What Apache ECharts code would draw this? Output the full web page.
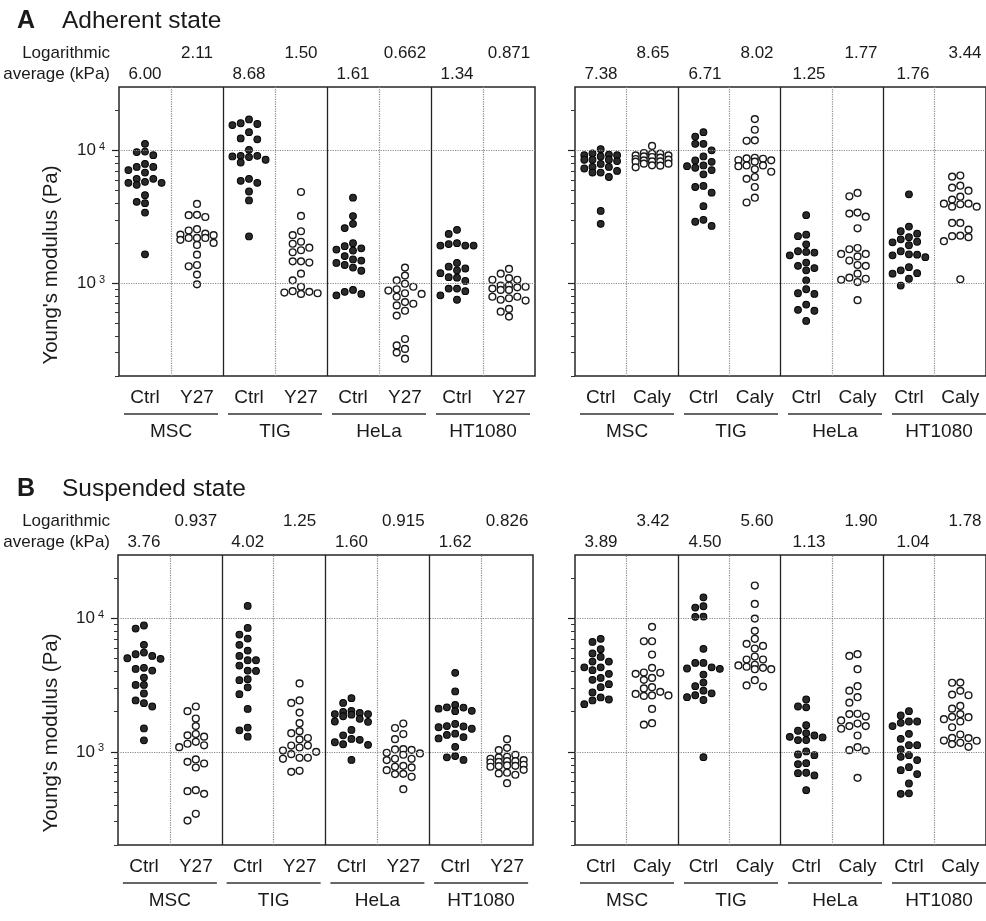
<!DOCTYPE html>
<html><head><meta charset="utf-8">
<script src="https://cdn.jsdelivr.net/npm/echarts@6/dist/echarts.min.js"></script>
<style>html,body{margin:0;padding:0;background:#fff}#c{width:986px;height:921px}</style>
</head><body><div id="c"></div>
<script>
// ---------- data ----------
const cellLines = ['MSC', 'TIG', 'HeLa', 'HT1080'];
const leftTreat = ['Ctrl', 'Y27'];
const rightTreat = ['Ctrl', 'Caly'];
const yTickValues = [1000, 10000];
const yMinorTickValues = [200, 300, 400, 500, 600, 700, 800, 900, 2000, 3000, 4000, 5000, 6000, 7000, 8000, 9000, 20000];
const panelTitles = ['Adherent state', 'Suspended state'];
const panelLetters = ['A', 'B'];

// A: adherent, Y27 experiment (Pa) — order: MSC, TIG, HeLa, HT1080
const adhY27Ctrl = [
  [11200, 9700, 9200, 9800, 7900, 7500, 7500, 7100, 6800, 6100, 6100, 5800, 5700, 5700, 5500, 4600, 4100, 4000, 3400, 1650],
  [17100, 15800, 15500, 16000, 12300, 12100, 13700, 10100, 9100, 8900, 9100, 8100, 8500, 9000, 6100, 5700, 5900, 4900, 4200, 2250],
  [4400, 3200, 2800, 2600, 1900, 1760, 1830, 2000, 1790, 1480, 1370, 1510, 1600, 1310, 1420, 1240, 890, 830, 810, 860],
  [2520, 2350, 2000, 1970, 1920, 1920, 1920, 1420, 1330, 1290, 1250, 1190, 1110, 1100, 1040, 910, 910, 870, 810, 750]
];
const adhY27Treated = [
  [3950, 3270, 3150, 3250, 2550, 2360, 2490, 2190, 2190, 2300, 2320, 2120, 2190, 1940, 2010, 1640, 1340, 1370, 1160, 980],
  [4860, 3210, 2460, 2300, 2050, 1980, 1850, 1770, 1710, 1460, 1430, 1460, 1180, 1050, 940, 860, 840, 830, 850, 870],
  [1310, 1140, 1050, 990, 940, 900, 880, 840, 830, 790, 720, 700, 680, 620, 570, 380, 340, 320, 300, 270],
  [1280, 1180, 1090, 1060, 1060, 960, 960, 940, 930, 910, 890, 890, 790, 790, 770, 750, 740, 640, 610, 560]
];
// A: adherent, calyculin experiment
const adhCalyCtrl = [
  [10200, 9500, 9300, 9200, 9200, 9000, 8500, 8500, 8500, 8300, 7900, 7500, 7500, 7300, 7000, 6800, 6800, 6300, 3500, 2800],
  [13700, 12700, 11200, 11200, 10000, 9000, 8400, 8200, 7700, 7600, 7400, 7100, 6600, 5400, 5300, 4800, 3800, 3000, 2900, 2700],
  [3250, 2320, 2260, 1960, 1740, 1720, 1700, 1620, 1430, 1350, 1300, 1250, 1050, 900, 840, 830, 690, 630, 620, 520],
  [4670, 2670, 2460, 2360, 2220, 2140, 2050, 2030, 1930, 1740, 1650, 1640, 1620, 1570, 1320, 1250, 1190, 1180, 1080, 960]
];
const adhCalyTreated = [
  [10800, 9550, 9440, 9440, 9170, 9170, 9010, 8910, 8810, 8600, 8510, 8410, 8260, 8260, 8220, 7940, 7940, 7710, 7670, 7450],
  [17200, 14300, 11900, 11800, 8800, 8700, 8650, 8460, 8410, 8220, 7700, 7700, 7600, 7200, 6900, 6300, 6100, 5300, 4400, 4050],
  [4780, 4510, 3400, 3340, 3170, 2590, 1840, 1800, 1660, 1660, 1590, 1480, 1370, 1350, 1180, 1100, 1080, 1060, 1020, 745],
  [6460, 6340, 5420, 5240, 4970, 4480, 4260, 3970, 3970, 3930, 3770, 3770, 2840, 2840, 2530, 2280, 2260, 2220, 2070, 1070]
];
// B: suspended, Y27 experiment
const susY27Ctrl = [
  [8870, 8410, 6350, 5560, 5400, 5250, 5040, 4990, 4270, 4190, 4070, 3610, 3180, 3180, 2740, 2430, 2320, 2190, 1500, 1220],
  [12450, 8510, 7590, 7080, 6350, 5750, 5250, 4870, 4870, 4440, 4070, 4050, 3510, 3450, 3050, 2710, 2100, 1520, 1450, 1300],
  [2530, 2330, 2030, 1990, 1960, 1920, 1920, 1900, 1850, 1770, 1690, 1680, 1460, 1330, 1250, 1230, 1180, 1140, 1130, 870],
  [3920, 2840, 2250, 2160, 2150, 2110, 2030, 2020, 1620, 1560, 1550, 1530, 1490, 1370, 1340, 1290, 1260, 1090, 930, 910, 870]
];
const susY27Treated = [
  [2190, 2020, 1780, 1560, 1360, 1330, 1300, 1190, 1150, 1120, 1085, 877, 841, 818, 763, 516, 507, 484, 343, 305],
  [3260, 2430, 2330, 1970, 1640, 1430, 1380, 1270, 1240, 1115, 1115, 1078, 1023, 1000, 961, 902, 902, 887, 721, 708],
  [1630, 1510, 1360, 1245, 1047, 1042, 1035, 984, 973, 951, 887, 887, 867, 785, 773, 764, 729, 684, 681, 650, 525],
  [1245, 1072, 1030, 951, 918, 908, 887, 867, 851, 851, 841, 832, 800, 791, 785, 782, 773, 733, 697, 689, 673, 582]
];
// B: suspended, calyculin experiment
const susCalyCtrl = [
  [7050, 6680, 5890, 5470, 5160, 4760, 4760, 4310, 4310, 4100, 3850, 3590, 3470, 3220, 3055, 2790, 2560, 2470, 2430, 2280],
  [14450, 12380, 12100, 10350, 10300, 5930, 4650, 4650, 4310, 4220, 4200, 3800, 3310, 3110, 2880, 2750, 2660, 2570, 2450, 912],
  [2470, 2190, 2160, 1585, 1440, 1380, 1327, 1297, 1282, 1225, 1225, 1007, 955, 944, 822, 809, 697, 692, 665, 516],
  [2020, 1875, 1690, 1690, 1650, 1560, 1365, 1253, 1122, 1122, 1042, 944, 918, 867, 767, 729, 681, 579, 488, 484]
];
const susCalyTreated = [
  [8670, 6760, 6760, 5370, 4270, 3940, 3920, 3850, 3590, 3470, 3055, 2990, 2820, 2720, 2650, 2650, 2630, 2100, 1640, 1600],
  [17700, 12880, 10000, 8090, 7050, 6460, 6240, 5960, 5190, 4930, 4930, 4500, 4450, 4350, 4270, 4170, 4170, 3450, 3150, 3090],
  [5410, 5250, 4170, 3110, 2880, 2570, 2340, 1930, 1920, 1840, 1720, 1630, 1560, 1560, 1490, 1327, 1084, 1030, 1023, 638],
  [3310, 3300, 2870, 2690, 2660, 2210, 2110, 1920, 1830, 1820, 1760, 1690, 1530, 1350, 1274, 1268, 1216, 1211, 1169, 1143, 1091]
];

// logarithmic averages (kPa)
const adhY27AvgCtrl = ['6.00', '8.68', '1.61', '1.34'];
const adhY27AvgTreated = ['2.11', '1.50', '0.662', '0.871'];
const adhCalyAvgCtrl = ['7.38', '6.71', '1.25', '1.76'];
const adhCalyAvgTreated = ['8.65', '8.02', '1.77', '3.44'];
const susY27AvgCtrl = ['3.76', '4.02', '1.60', '1.62'];
const susY27AvgTreated = ['0.937', '1.25', '0.915', '0.826'];
const susCalyAvgCtrl = ['3.89', '4.50', '1.13', '1.04'];
const susCalyAvgTreated = ['3.42', '5.60', '1.90', '1.78'];

// ---------- layout ----------
const FONT = 'Liberation Sans, Arial, Helvetica, sans-serif';
const Y_MIN = 200, Y_MAX = 30000;
const panels = [
  { grid: { left: 119, top: 87, width: 416, height: 289 }, ctrl: adhY27Ctrl, trt: adhY27Treated, avgC: adhY27AvgCtrl, avgT: adhY27AvgTreated, treat: leftTreat, yLabels: true },
  { grid: { left: 575, top: 87, width: 416, height: 289 }, ctrl: adhCalyCtrl, trt: adhCalyTreated, avgC: adhCalyAvgCtrl, avgT: adhCalyAvgTreated, treat: rightTreat, yLabels: false },
  { grid: { left: 118, top: 555, width: 415, height: 290 }, ctrl: susY27Ctrl, trt: susY27Treated, avgC: susY27AvgCtrl, avgT: susY27AvgTreated, treat: leftTreat, yLabels: true },
  { grid: { left: 575, top: 555, width: 416, height: 290 }, ctrl: susCalyCtrl, trt: susCalyTreated, avgC: susCalyAvgCtrl, avgT: susCalyAvgTreated, treat: rightTreat, yLabels: false }
];

// simple beeswarm on 5 horizontal slots; offsets are in column units
function swarm(values, col, pxPerDecade, colPx) {
  const SLOT_PX = 8.3, MIN_GAP = 7.2;
  const order = [0, -1, 1, -2, 2];
  const placed = {};
  order.forEach(s => placed[s] = []);
  const sorted = values.slice().sort((a, b) => b - a);
  const out = [];
  sorted.forEach(v => {
    const py = -Math.log10(v) * pxPerDecade;
    let best = 0, bestD = -1;
    for (const s of order) {
      const d = placed[s].reduce((m, q) => Math.min(m, Math.abs(q - py)), Infinity);
      if (d >= MIN_GAP) { best = s; break; }
      if (d > bestD + 0.5) { bestD = d; best = s; }
    }
    placed[best].push(py);
    out.push([col + 0.5 + best * SLOT_PX / colPx, v]);
  });
  return out;
}

const grids = [], xAxes = [], yAxes = [], series = [], graphics = [];
const txt = (x, y, text, size, opts) => Object.assign({
  type: 'text', x, y, silent: true,
  style: Object.assign({ text, fontSize: size, fontFamily: FONT, fill: '#1a1a1a', align: 'center', verticalAlign: 'middle' }, opts || {})
});

panels.forEach((p, pi) => {
  const g = p.grid;
  const colPx = g.width / 8;
  const pxPerDecade = g.height / Math.log10(Y_MAX / Y_MIN);
  grids.push(Object.assign({ show: true, borderColor: '#262626', borderWidth: 1.5, backgroundColor: 'transparent' }, g));
  xAxes.push({
    type: 'value', gridIndex: pi, min: 0, max: 8, interval: 1,
    axisLine: { show: false }, axisTick: { show: false }, splitLine: { show: false },
    axisLabel: {
      customValues: [0.5, 1.5, 2.5, 3.5, 4.5, 5.5, 6.5, 7.5],
      formatter: v => p.treat[Math.floor(v) % 2],
      fontSize: 19, fontFamily: FONT, color: '#1a1a1a', margin: 12
    }
  });
  yAxes.push({
    type: 'log', logBase: 10, gridIndex: pi, position: 'left', min: Y_MIN, max: Y_MAX,
    axisLine: { show: false }, splitLine: { show: false },
    axisTick: { show: true, customValues: yTickValues, length: 7, lineStyle: { color: '#222', width: 1.2 } },
    axisLabel: {
      show: p.yLabels, customValues: yTickValues, margin: 14,
      formatter: v => '{b|10}{s|' + Math.round(Math.log10(v)) + '}',
      rich: {
        b: { fontSize: 17, fontFamily: FONT, color: '#1a1a1a', lineHeight: 18 },
        s: { fontSize: 11, fontFamily: FONT, color: '#1a1a1a', verticalAlign: 'top', padding: [0, 0, 0, 3] }
      }
    }
  });
  yAxes.push({
    type: 'log', logBase: 10, gridIndex: pi, position: 'left', offset: 0, min: Y_MIN, max: Y_MAX,
    axisLine: { show: false }, splitLine: { show: false }, axisLabel: { show: false },
    axisTick: { show: true, customValues: yMinorTickValues, length: 4, lineStyle: { color: '#333', width: 1 } }
  });

  // reference lines
  const dotted = { type: 'dotted', color: '#8a8a8a', width: 1.2 };
  const solid = { type: 'solid', color: '#222', width: 1.3 };
  series.push({
    type: 'scatter', xAxisIndex: pi, yAxisIndex: 2 * pi, data: [], z: 1, silent: true,
    markLine: {
      silent: true, symbol: ['none', 'none'], label: { show: false }, animation: false,
      data: [
        { yAxis: 1000, lineStyle: dotted }, { yAxis: 10000, lineStyle: dotted },
        { xAxis: 1, lineStyle: dotted }, { xAxis: 3, lineStyle: dotted },
        { xAxis: 5, lineStyle: dotted }, { xAxis: 7, lineStyle: dotted },
        { xAxis: 2, lineStyle: solid }, { xAxis: 4, lineStyle: solid }, { xAxis: 6, lineStyle: solid }
      ]
    }
  });

  let ctrlData = [], trtData = [];
  cellLines.forEach((cl, ci) => {
    ctrlData = ctrlData.concat(swarm(p.ctrl[ci], 2 * ci, pxPerDecade, colPx));
    trtData = trtData.concat(swarm(p.trt[ci], 2 * ci + 1, pxPerDecade, colPx));
  });
  series.push({
    type: 'scatter', xAxisIndex: pi, yAxisIndex: 2 * pi, data: ctrlData, z: 3,
    symbol: 'circle', symbolSize: 6.8, animation: false,
    itemStyle: { color: '#2a2a2a', borderColor: '#000', borderWidth: 1, opacity: 1 }
  });
  series.push({
    type: 'scatter', xAxisIndex: pi, yAxisIndex: 2 * pi, data: trtData, z: 3,
    symbol: 'circle', symbolSize: 6.8, animation: false,
    itemStyle: { color: '#fff', borderColor: '#1a1a1a', borderWidth: 1.4, opacity: 1 }
  });

  // log-average labels, group labels, underlines
  const bottom = g.top + g.height;
  cellLines.forEach((cl, ci) => {
    const cx = g.left + (2 * ci + 0.5) * colPx;
    const tx = g.left + (2 * ci + 1.5) * colPx;
    graphics.push(txt(cx, g.top - 13, p.avgC[ci], 17));
    graphics.push(txt(tx, g.top - 34, p.avgT[ci], 17));
    const gc = g.left + (2 * ci + 1) * colPx;
    graphics.push({ type: 'line', silent: true, shape: { x1: gc - 47, y1: bottom + 38, x2: gc + 47, y2: bottom + 38 }, style: { stroke: '#333', lineWidth: 1.3 } });
    graphics.push(txt(gc, bottom + 56, cl, 19));
  });
});

// panel headers & y-axis titles
[0, 2].forEach((pi, k) => {
  const g = panels[pi].grid;
  graphics.push(txt(17, g.top - 66, panelLetters[k], 25, { align: 'left', fontWeight: 'bold' }));
  graphics.push(txt(62, g.top - 66, panelTitles[k], 24.5, { align: 'left' }));
  graphics.push(txt(110, g.top - 34, 'Logarithmic', 17, { align: 'right' }));
  graphics.push(txt(110, g.top - 13, 'average (kPa)', 17, { align: 'right' }));
  graphics.push({
    type: 'text', x: 51, y: g.top + 178, rotation: Math.PI / 2, silent: true,
    style: { text: "Young's modulus (Pa)", fontSize: 20.5, fontFamily: FONT, fill: '#1a1a1a', align: 'center', verticalAlign: 'middle' }
  });
});

const chart = echarts.init(document.getElementById('c'), null, { renderer: 'canvas' });
chart.setOption({
  backgroundColor: '#fff',
  animation: false,
  grid: grids, xAxis: xAxes, yAxis: yAxes, series,
  graphic: { elements: graphics }
});
</script></body></html>
